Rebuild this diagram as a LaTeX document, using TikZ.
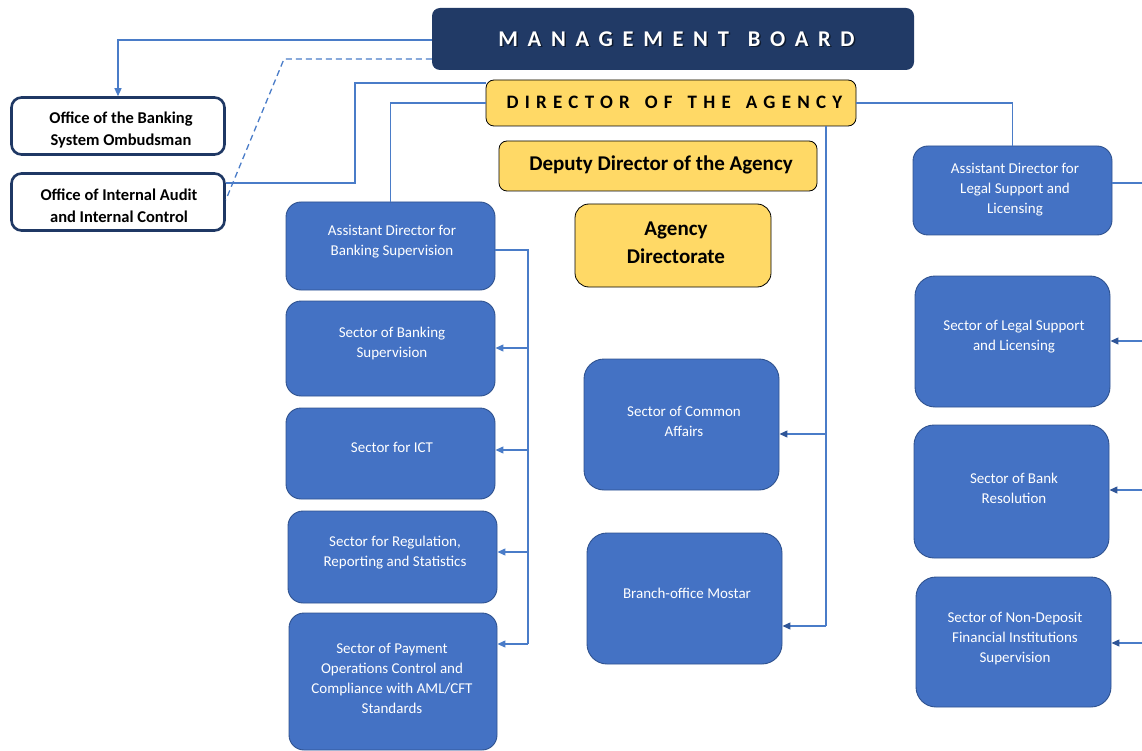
\documentclass[tikz,border=0pt]{standalone}
\usepackage{fontspec}
\setmainfont{Carlito}
\usetikzlibrary{arrows.meta}
\definecolor{navy}{HTML}{213A66}
\definecolor{navyline}{HTML}{1F3864}
\definecolor{boxblue}{HTML}{4472C4}
\definecolor{boxedge}{HTML}{2F528F}
\definecolor{yel}{HTML}{FFD966}
\definecolor{linec}{HTML}{4A7CC8}
\definecolor{tipdark}{HTML}{2F5597}
\tikzset{
  bluebox/.style={rectangle, rounded corners=15pt, fill=boxblue, draw=boxedge, line width=0.9pt, inner sep=0pt},
  bluetext/.style={text=white, align=center, inner sep=0pt, font=\fontsize{15}{20}\selectfont},
  whitebox/.style={rectangle, rounded corners=10pt, fill=white, draw=navyline, line width=2.6pt, align=center, inner sep=0pt},
  whitetext/.style={inner sep=0pt, align=center, font=\bfseries\fontsize{16.5}{22}\selectfont},
  yelbox/.style={rectangle, rounded corners=8pt, fill=yel, draw=black, line width=0.8pt, align=center, inner sep=0pt},
  conn/.style={draw=linec, line width=1.3pt},
  arrl/.style={conn, -{Triangle[length=8pt,width=7pt,fill=linec,color=linec]}},
  arrd/.style={conn, -{Triangle[length=8pt,width=7pt,fill=tipdark,color=tipdark]}},
  mbfont/.style={font=\bfseries\fontsize{22.5}{26}\selectfont\addfontfeature{LetterSpace=43}},
  dirfont/.style={font=\bfseries\fontsize{19}{22}\selectfont\addfontfeature{LetterSpace=33}},
}
\newcommand{\mbword}{MANAGEMENT\hspace{19pt}BOARD}
\newcommand{\dirgap}{\hspace{15pt}}
\begin{document}
\begin{tikzpicture}[x=1pt,y=-1pt]
\useasboundingbox (0,0) rectangle (1142,751);
% top nodes
\node[rectangle, rounded corners=8pt, fill=navy, minimum width=482pt, minimum height=62pt, inner sep=0pt] (mb) at (673,39) {};
\node[text=black, opacity=0.55, inner sep=0pt, mbfont] (mbshadow) at (678,40.5) {\mbword};
\node[text=white, inner sep=0pt, mbfont] (mbt) at (676.5,39) {\mbword};

\node[yelbox, minimum width=370pt, minimum height=46pt] (dir) at (671,103) {};
\node[inner sep=0pt, dirfont] (dirt) at (674.5,102) {DIRECTOR\dirgap OF\dirgap THE\dirgap AGENCY};

\node[yelbox, minimum width=318pt, minimum height=50pt] (dep) at (658,166) {};
\node[inner sep=0pt, font=\bfseries\fontsize{21}{28}\selectfont] (dept) at (661,165) {Deputy Director of the Agency};

\node[yelbox, minimum width=196pt, minimum height=83pt, rounded corners=14pt] (agd) at (673,245.5) {};
\node[inner sep=0pt, align=center, font=\bfseries\fontsize{21}{28}\selectfont] (agdt) at (676,243) {Agency\\Directorate};

% white offices
\node[whitebox, minimum width=213pt, minimum height=57pt] (omb) at (118,126) {};
\node[whitetext] (ombt) at (121,130) {Office of the Banking\\System Ombudsman};
\node[whitebox, minimum width=213pt, minimum height=57pt] (ia) at (118,202) {};
\node[whitetext] (iat) at (119,206) {Office of Internal Audit\\and Internal Control};

% left column
\node[bluebox, minimum width=209pt, minimum height=88pt] (adbs) at (390.5,246) {};
\node[bluetext] (adbst) at (392,242) {Assistant Director for\\Banking Supervision};
\node[bluebox, minimum width=209pt, minimum height=95pt] (sbs) at (390.5,348.5) {};
\node[bluetext] (sbst) at (392,343.5) {Sector of Banking\\Supervision};
\node[bluebox, minimum width=209pt, minimum height=91pt] (ict) at (390.5,453.5) {};
\node[bluetext] (ictt) at (392,447) {Sector for ICT};
\node[bluebox, minimum width=209pt, minimum height=92pt] (reg) at (392.5,557) {};
\node[bluetext] (regt) at (395,553) {Sector for Regulation,\\Reporting and Statistics};
\node[bluebox, minimum width=208pt, minimum height=137pt] (pay) at (393,681.5) {};
\node[bluetext] (payt) at (392,678) {Sector of Payment\\Operations Control and\\Compliance with AML/CFT\\Standards};

% middle column
\node[bluebox, minimum width=195pt, minimum height=131pt, rounded corners=20pt] (ca) at (681.5,424.5) {};
\node[bluetext] (cat) at (684,421) {Sector of Common\\Affairs};
\node[bluebox, minimum width=195pt, minimum height=131pt, rounded corners=20pt] (mos) at (684.5,598.5) {};
\node[bluetext] (most) at (687,593) {Branch-office Mostar};

% right column
\node[bluebox, minimum width=199pt, minimum height=89pt] (adl) at (1012.5,190.5) {};
\node[bluetext] (adlt) at (1015,190) {Assistant Director for\\Legal Support and\\Licensing};
\node[bluebox, minimum width=195pt, minimum height=131pt, rounded corners=20pt] (sls) at (1012.5,341.5) {};
\node[bluetext] (slst) at (1014,337) {Sector of Legal Support\\and Licensing};
\node[bluebox, minimum width=195pt, minimum height=133pt, rounded corners=20pt] (sbr) at (1011.5,491.5) {};
\node[bluetext] (sbrt) at (1014,488) {Sector of Bank\\Resolution};
\node[bluebox, minimum width=195pt, minimum height=130pt, rounded corners=20pt] (snd) at (1013.5,642) {};
\node[bluetext] (sndt) at (1015,639) {Sector of Non-Deposit\\Financial Institutions\\Supervision};

% connectors: board
\draw[arrl] (mb.west |- 0,40) -| (omb.north);
\coordinate (dbend) at (284,59);
\draw[conn, dashed, dash pattern=on 6pt off 4pt] (mb.west |- 0,59) -- (dbend) -- ([yshift=2pt]ia.east);
% internal audit to director
\coordinate (iabend) at (355,83);
\draw[conn] ([yshift=19pt]ia.east) -| (iabend) -- (dir.west |- iabend);
% director to assistant directors
\draw[conn] (dir.west) -| (adbs.north);
\draw[conn] (dir.east) -| (adl.north);
% director to middle column
\coordinate (vtop) at (826,126);
\coordinate (v1) at (826,434);
\coordinate (v2) at (826,626);
\draw[conn] (vtop) -- (v2);
\draw[arrd] (v1) -- (ca.east |- v1);
\draw[arrd] (v2) -- (mos.east |- v2);
% banking supervision branch
\coordinate (l0) at (528,250);
\coordinate (l1) at (528,348);
\coordinate (l2) at (528,450);
\coordinate (l3) at (528,552);
\coordinate (l4) at (528,644);
\draw[conn] ([yshift=-4pt]adbs.east) -- (l0) -- (l4);
\draw[arrl] (l1) -- (sbs.east |- l1);
\draw[arrl] (l2) -- (ict.east |- l2);
\draw[arrl] (l3) -- (reg.east |- l3);
\draw[arrl] (l4) -- (pay.east |- l4);
% legal branch (trunk outside the frame)
\coordinate (r0) at (1142,183);
\coordinate (r1) at (1142,341);
\coordinate (r2) at (1142,490);
\coordinate (r3) at (1142,643);
\draw[conn] (adl.east |- r0) -- (r0);
\draw[arrd] (r1) -- (sls.east |- r1);
\draw[arrd] (r2) -- (sbr.east |- r2);
\draw[arrd] (r3) -- (snd.east |- r3);
\end{tikzpicture}
\end{document}
